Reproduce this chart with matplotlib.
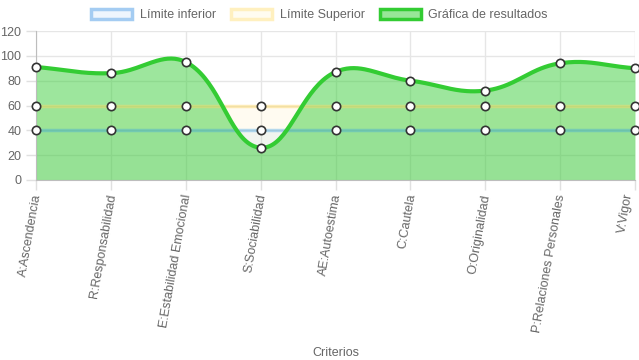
import numpy as np
import matplotlib.pyplot as plt
from matplotlib.patches import Patch

criterios = ["A:Ascendencia", "R:Responsabilidad", "E:Estabilidad Emocional",
             "S:Sociabilidad", "AE:Autoestima", "C:Cautela", "O:Originalidad",
             "P:Relaciones Personales", "V:Vigor"]
limite_inferior = [40, 40, 40, 40, 40, 40, 40, 40, 40]
limite_superior = [60, 60, 60, 60, 60, 60, 60, 60, 60]
resultados = [91, 86, 95, 26, 87, 80, 72, 94, 90]
yticks = [0, 20, 40, 60, 80, 100, 120]


def spline(xs, ys, tension=0.4, xscale=75.0, yscale=1.25, n=40):
    # Chart.js style bezier spline, distances measured in pixel space
    px = np.asarray(xs, float) * xscale
    py = np.asarray(ys, float) * yscale
    m = len(px)
    cp1 = np.zeros((m, 2))
    cp2 = np.zeros((m, 2))
    for i in range(m):
        p = np.array([px[max(i - 1, 0)], py[max(i - 1, 0)]])
        c = np.array([px[i], py[i]])
        q = np.array([px[min(i + 1, m - 1)], py[min(i + 1, m - 1)]])
        d01 = np.hypot(*(c - p))
        d12 = np.hypot(*(q - c))
        tot = d01 + d12
        s01 = d01 / tot if tot else 0
        s12 = d12 / tot if tot else 0
        cp1[i] = c - tension * s01 * (q - p)
        cp2[i] = c + tension * s12 * (q - p)
    outx, outy = [], []
    t = np.linspace(0, 1, n)
    for i in range(m - 1):
        p0 = np.array([px[i], py[i]])
        p3 = np.array([px[i + 1], py[i + 1]])
        b = ((1 - t) ** 3)[:, None] * p0 + (3 * (1 - t) ** 2 * t)[:, None] * cp2[i] \
            + (3 * (1 - t) * t ** 2)[:, None] * cp1[i + 1] + (t ** 3)[:, None] * p3
        outx.extend(b[:, 0])
        outy.extend(b[:, 1])
    return np.array(outx) / xscale, np.array(outy) / yscale


plt.rcParams['font.family'] = ['Liberation Sans', 'DejaVu Sans']

fig = plt.figure(figsize=(6.39, 3.6), dpi=100)
ax = fig.add_axes([36 / 639, 0.5, 599 / 639, 149 / 360])

x = np.arange(len(criterios))
green = "#33cc33"
blue = "#a4ccf2"
yellow = "#fff0bf"

ax.fill_between(x, 0, limite_inferior, color="#36a2eb", alpha=0.07, lw=0, zorder=1)
ax.fill_between(x, 0, limite_superior, color="#ffcd56", alpha=0.08, lw=0, zorder=1)
sx, sy = spline(x, resultados)
ax.fill_between(sx, 0, sy, color="#3ccf3c", alpha=0.5, lw=0, zorder=2)

ax.plot(x, limite_inferior, color="#36a2eb", alpha=0.35, lw=2.5, zorder=3)
ax.plot(x, limite_superior, color="#ffd966", alpha=0.45, lw=2.5, zorder=3)
ax.plot(sx, sy, color=green, lw=3, zorder=4)

for serie in (limite_inferior, limite_superior, resultados):
    ax.plot(x, serie, ls="none", marker="o", ms=6, mfc="white", mec="#333333",
            mew=1.2, zorder=5, clip_on=False)

ax.set_xlim(0, len(criterios) - 1)
ax.set_ylim(0, 120)
ax.set_yticks(yticks)
ax.set_xticks(x)
labels = ax.set_xticklabels(criterios, rotation=80, ha="right",
                            va="center_baseline", rotation_mode="anchor")
labels[-1].set_va("bottom")  # keep the last label inside the canvas
ax.grid(True, color="#e6e6e6", lw=1, zorder=0)
ax.set_axisbelow(True)
ax.tick_params(axis="both", colors="#e0e0e0", labelcolor="#666666",
               labelsize=9, length=7, width=1)
ax.tick_params(axis="x", pad=3)
for side in ("top", "right"):
    ax.spines[side].set_visible(False)
for side in ("left", "bottom"):
    ax.spines[side].set_color("#bdbdbd")

ax.set_xlabel("Criterios", color="#666666", fontsize=9)
ax.xaxis.set_label_coords(0.5, -1.12)

handles = [
    Patch(facecolor="#eef5fd", edgecolor=blue, lw=2.5, label="Límite inferior"),
    Patch(facecolor="#fffcf0", edgecolor=yellow, lw=2.5, label="Límite Superior"),
    Patch(facecolor="#98e698", edgecolor=green, lw=2.5, label="Gráfica de resultados"),
]
fig.legend(handles=handles, loc="center", bbox_to_anchor=(0.5, 1 - 15 / 360),
           ncol=3, frameon=False, fontsize=9, labelcolor="#666666",
           handlelength=3.3, handleheight=0.9, handletextpad=0.6, columnspacing=1.2)

plt.savefig("out.png", dpi=100)
